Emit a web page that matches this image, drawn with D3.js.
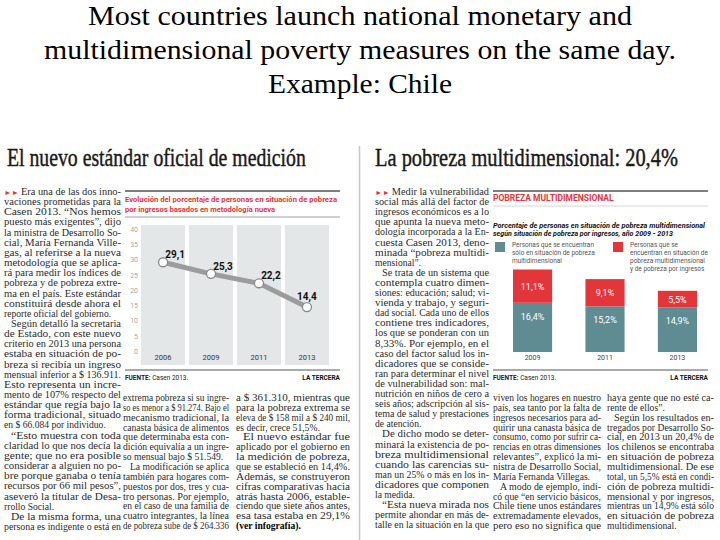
<!DOCTYPE html>
<html><head><meta charset="utf-8">
<script src="https://cdn.jsdelivr.net/npm/d3@7"></script>
<style>body{margin:0;background:#fff}svg{display:block}</style>
</head><body>
<svg id="c" width="720" height="540"></svg>
<script>
// ---------- data ----------
const titleLines = [
  "Most countries launch national monetary and",
  "multidimensional poverty measures on the same day.",
  "Example: Chile"
];
const headlineLeft = "El nuevo estándar oficial de medición";
const headlineRight = "La pobreza multidimensional: 20,4%";

const lineTitle = ["Evolución del porcentaje de personas en situación de pobreza",
                   "por ingresos basados en metodología nueva"];
const lineYears = ["2006", "2009", "2011", "2013"];
const lineValues = [29.1, 25.3, 22.2, 14.4];
const lineLabels = ["29,1", "25,3", "22,2", "14,4"];
const yTicks = [0, 5, 10, 15, 20, 25, 30, 35, 40];

const barHeading = "POBREZA MULTIDIMENSIONAL";
const barSubtitle = ["Porcentaje de personas en situación de pobreza multidimensional",
                     "según situación de pobreza por ingresos, año 2009 - 2013"];
const barYears = ["2009", "2011", "2013"];
const onlyMulti = [16.4, 15.2, 14.9];
const multiAndIncome = [11.1, 9.1, 5.5];
const onlyMultiLabels = ["16,4%", "15,2%", "14,9%"];
const bothLabels = ["11,1%", "9,1%", "5,5%"];
const legendOnly = ["Personas que se encuentran", "sólo en situación de pobreza", "multidimensional"];
const legendBoth = ["Personas que se", "encuentran en situación de", "pobreza multidimensional", "y de pobreza por ingresos"];
const sourceText = ["FUENTE:", " Casen 2013."];
const brand = "LA TERCERA";

// body text columns ("\t" = indented paragraph start, "\n" = paragraph end, ** = bold)
const colA = [
  "►► Era una de las dos inno-", "vaciones prometidas para la", "Casen 2013. “Nos hemos",
  "puesto más exigentes”, dijo", "la ministra de Desarrollo So-", "cial, María Fernanda Ville-",
  "gas, al referirse a la nueva", "metodología que se aplica-", "rá para medir los índices de",
  "pobreza y de pobreza extre-", "ma en el país. Este estándar", "constituirá desde ahora el",
  "reporte oficial del gobierno.\n", "\tSegún detalló la secretaria", "de Estado, con este nuevo",
  "criterio en 2013 una persona", "estaba en situación de po-", "breza si recibía un ingreso",
  "mensual inferior a $ 136.911.", "Esto representa un incre-", "mento de 107% respecto del",
  "estándar que regía bajo la", "forma tradicional, situado", "en $ 66.084 por individuo.\n",
  "\t“Esto muestra con toda", "claridad lo que nos decía la", "gente; que no era posible",
  "considerar a alguien no po-", "bre porque ganaba o tenía", "recursos por 66 mil pesos”,",
  "aseveró la titular de Desa-", "rrollo Social.\n", "\tDe la misma forma, una",
  "persona es indigente o está en"
];
const colB = [
  "extrema pobreza si su ingre-", "so es menor a $ 91.274. Bajo el", "mecanismo tradicional, la",
  "canasta básica de alimentos", "que determinaba esta con-", "dición equivalía a un ingre-",
  "so mensual bajo $ 51.549.\n", "\tLa modificación se aplica", "también para hogares com-",
  "puestos por dos, tres y cua-", "tro personas. Por ejemplo,", "en el caso de una familia de",
  "cuatro integrantes, la línea", "de pobreza sube de $ 264.336"
];
const colC = [
  "a $ 361.310, mientras que", "para la pobreza extrema se", "eleva de $ 158 mil a $ 240 mil,",
  "es decir, crece 51,5%.\n", "\tEl nuevo estándar fue", "aplicado por el gobierno en",
  "la medición de pobreza,", "que se estableció en 14,4%.", "Además, se construyeron",
  "cifras comparativas hacia", "atrás hasta 2006, estable-", "ciendo que siete años antes,",
  "esa tasa estaba en 29,1%", "**(ver infografía).**\n"
];
const colD = [
  "►► Medir la vulnerabilidad", "social más allá del factor de", "ingresos económicos es a lo",
  "que apunta la nueva meto-", "dología incorporada a la En-", "cuesta Casen 2013, deno-",
  "minada “pobreza multidi-", "mensional”.\n", "\tSe trata de un sistema que",
  "contempla cuatro dimen-", "siones: educación; salud; vi-", "vienda y trabajo, y seguri-",
  "dad social. Cada uno de ellos", "contiene tres indicadores,", "los que se ponderan con un",
  "8,33%. Por ejemplo, en el", "caso del factor salud los in-", "dicadores que se conside-",
  "ran para determinar el nivel", "de vulnerabilidad son: mal-", "nutrición en niños de cero a",
  "seis años; adscripción al sis-", "tema de salud y prestaciones", "de atención.\n",
  "\tDe dicho modo se deter-", "minará la existencia de po-", "breza multidimensional",
  "cuando las carencias su-", "man un 25% o más en los in-", "dicadores que componen",
  "la medida.\n", "\t“Esta nueva mirada nos", "permite ahondar en más de-",
  "talle en la situación en la que"
];
const colE = [
  "viven los hogares en nuestro", "país, sea tanto por la falta de", "ingresos necesarios para ad-",
  "quirir una canasta básica de", "consumo, como por sufrir ca-", "rencias en otras dimensiones",
  "relevantes”, explicó la mi-", "nistra de Desarrollo Social,", "María Fernanda Villegas.\n",
  "\tA modo de ejemplo, indi-", "có que “en servicio básicos,", "Chile tiene unos estándares",
  "extremadamente elevados,", "pero eso no significa que"
];
const colF = [
  "haya gente que no esté ca-", "rente de ellos”.\n", "\tSegún los resultados en-",
  "tregados por Desarrollo So-", "cial, en 2013 un 20,4% de", "los chilenos se encontraba",
  "en situación de pobreza", "multidimensional. De ese", "total, un 5,5% está en condi-",
  "ción de pobreza multidi-", "mensional y por ingresos,", "mientras un 14,9% está sólo",
  "en situación de pobreza", "multidimensional.\n"
];

// ---------- drawing ----------
const svg = d3.select("#c");
svg.append("rect").attr("width", 720).attr("height", 540).attr("fill", "#fff");

const SERIF = "'Liberation Serif','Times New Roman',serif";
const SANS = "Roboto,'Liberation Sans',Arial,sans-serif";
const RED = "#e2363b", TEAL = "#5f8b93";

function fitText(sel, w) {
  sel.attr("textLength", w).attr("lengthAdjust", "spacingAndGlyphs");
}

// slide title
const titleW = [544, 632, 184];
titleLines.forEach((t, i) => {
  const el = svg.append("text").attr("x", 360).attr("y", 25 + i * 34)
    .attr("text-anchor", "middle").attr("font-family", SERIF).attr("font-size", 28)
    .attr("fill", "#000").text(t);
  fitText(el, titleW[i]);
});

// page divider
svg.append("line").attr("x1", 359.5).attr("x2", 359.5).attr("y1", 146).attr("y2", 540)
  .attr("stroke", "#c8c8c8").attr("stroke-width", 1.5);

// headlines (condensed by a horizontal scale so the box matches the drawn width)
[[headlineLeft, 7, 299], [headlineRight, 375, 303]].forEach(([t, x, w]) => {
  const el = svg.append("text").attr("x", 0).attr("y", 0).attr("font-family", SERIF)
    .attr("font-size", 25).attr("fill", "#1a1a1a").attr("stroke", "#1a1a1a")
    .attr("stroke-width", 0.45).text(t);
  const nat = el.node().getComputedTextLength();
  el.attr("transform", `translate(${x},166) scale(${w / nat},1)`);
});

// body columns
function column(lines, x, w, y0, dy) {
  const g = svg.append("g").attr("font-family", SERIF).attr("font-size", 9.6).attr("fill", "#2b2b2b");
  lines.forEach((ln, i) => {
    const indent = ln.startsWith("\t") ? 7 : 0;
    const end = ln.endsWith("\n");
    let s = ln.replace(/^\t/, "").replace(/\n$/, "");
    const t = g.append("text").attr("x", x + indent).attr("y", y0 + i * dy);
    if (s.startsWith("►► ")) {
      t.append("tspan").attr("fill", RED).attr("font-size", 7).text("►► ");
      s = s.slice(3);
    }
    if (s.startsWith("**")) {
      t.append("tspan").attr("font-weight", "bold").attr("fill", "#000").text(s.replace(/\*\*/g, ""));
    } else {
      t.append("tspan").text(s);
    }
    const nat = t.node().getComputedTextLength();
    const avail = w - indent;
    fitText(t, end ? Math.min(nat, avail) : avail);
  });
}
column(colA, 4, 117, 195, 10.15);
column(colB, 123, 106, 401, 9.85);
column(colC, 236, 114, 401, 9.85);
column(colD, 375, 114, 195, 10.1);
column(colE, 493, 108, 401, 9.85);
column(colF, 607, 107, 401, 9.85);

// ---------- left chart: line ----------
(function () {
  const x0 = 125, x1 = 340;
  const g = svg.append("g");
  g.append("line").attr("x1", x0).attr("x2", x1).attr("y1", 191).attr("y2", 191).attr("stroke", "#555").attr("stroke-width", 1.3);
  lineTitle.forEach((t, i) => {
    fitText(g.append("text").attr("x", x0).attr("y", 202 + i * 10).attr("font-family", SANS)
      .attr("font-weight", "bold").attr("font-size", 8).attr("fill", RED).text(t), i === 0 ? 212 : 150);
  });
  g.append("line").attr("x1", x0).attr("x2", x1).attr("y1", 217).attr("y2", 217).attr("stroke", "#888").attr("stroke-width", 0.8);

  const x = d3.scaleBand().domain(lineYears).range([141, 329]).paddingInner(0.08);
  const y = d3.scaleLinear().domain([0, 40]).range([351, 229]);

  g.selectAll("rect.band").data(lineYears).join("rect").attr("class", "band")
    .attr("x", d => x(d)).attr("width", x.bandwidth()).attr("y", 225).attr("height", 140)
    .attr("fill", "#e4e7e7");

  const ya = g.append("g").attr("transform", "translate(138,0)")
    .call(d3.axisLeft(y).tickValues(yTicks).tickSize(0).tickPadding(0));
  ya.select(".domain").remove();
  ya.selectAll("text").attr("font-family", SANS).attr("font-size", 7).attr("fill", "#a8a8a8");

  const xa = g.append("g").attr("transform", "translate(0,352)")
    .call(d3.axisBottom(x).tickSize(0).tickPadding(3));
  xa.select(".domain").remove();
  xa.selectAll("text").attr("font-family", SANS).attr("font-size", 7.5).attr("fill", "#333");

  const pts = lineYears.map((yr, i) => ({ yr, v: lineValues[i], lab: lineLabels[i] }));
  const cx = d => x(d.yr) + x.bandwidth() / 2;
  g.append("path").datum(pts)
    .attr("d", d3.line().x(cx).y(d => y(d.v)))
    .attr("fill", "none").attr("stroke", "#9c9c9c").attr("stroke-width", 5);
  g.selectAll("circle").data(pts).join("circle")
    .attr("cx", cx).attr("cy", d => y(d.v)).attr("r", 4.5)
    .attr("fill", "#fff").attr("stroke", "#8a8a8a").attr("stroke-width", 1.3);
  g.selectAll("text.lab").data(pts).join("text").attr("class", "lab")
    .attr("x", (d, i) => cx(d) + (i < 3 ? 12 : 0)).attr("y", (d, i) => y(d.v) - (i < 3 ? 4 : 7))
    .attr("text-anchor", "middle").attr("font-family", SANS).attr("font-weight", "bold")
    .attr("font-size", 10).attr("fill", "#111").text(d => d.lab);

  g.append("line").attr("x1", x0).attr("x2", x1).attr("y1", 370).attr("y2", 370).attr("stroke", "#555").attr("stroke-width", 1);
  const src = g.append("text").attr("x", x0).attr("y", 380).attr("font-family", SANS).attr("font-size", 6.5).attr("fill", "#222");
  src.append("tspan").attr("font-weight", "bold").text(sourceText[0]);
  src.append("tspan").text(sourceText[1]);
  g.append("text").attr("x", x1).attr("y", 380).attr("text-anchor", "end").attr("font-family", SANS)
    .attr("font-weight", "bold").attr("font-size", 6.5).attr("fill", "#111").text(brand);
})();

// ---------- right chart: stacked bars ----------
(function () {
  const x0 = 493, x1 = 708;
  const g = svg.append("g");
  g.append("line").attr("x1", x0).attr("x2", x1).attr("y1", 191).attr("y2", 191).attr("stroke", "#555").attr("stroke-width", 1.3);
  g.append("text").attr("x", x0).attr("y", 201).attr("font-family", SANS).attr("font-weight", "bold")
    .attr("font-size", 8.5).attr("fill", RED).text(barHeading);
  g.append("line").attr("x1", x0).attr("x2", x1).attr("y1", 206).attr("y2", 206).attr("stroke", "#bbb").attr("stroke-width", 0.6);
  barSubtitle.forEach((t, i) => {
    fitText(g.append("text").attr("x", x0).attr("y", 228 + i * 8).attr("font-family", SANS)
      .attr("font-weight", "bold").attr("font-style", "italic").attr("font-size", 7).attr("fill", "#111").text(t),
      i === 0 ? 212 : 180);
  });
  // legend
  g.append("rect").attr("x", 495).attr("y", 242).attr("width", 10).attr("height", 10).attr("fill", TEAL);
  legendOnly.forEach((t, i) => g.append("text").attr("x", 512).attr("y", 247 + i * 8)
    .attr("font-family", SANS).attr("font-size", 6.5).attr("fill", "#555").text(t));
  g.append("rect").attr("x", 613).attr("y", 242).attr("width", 10).attr("height", 10).attr("fill", RED);
  legendBoth.forEach((t, i) => g.append("text").attr("x", 630).attr("y", 247 + i * 8)
    .attr("font-family", SANS).attr("font-size", 6.5).attr("fill", "#555").text(t));

  const x = d3.scaleBand().domain(barYears).range([513, 697]).paddingInner(0.46);
  const y = d3.scaleLinear().domain([0, 40]).range([352, 232]);
  const rows = barYears.map((yr, i) => ({ yr, only: onlyMulti[i], both: multiAndIncome[i], i }));
  const stack = d3.stack().keys(["only", "both"])(rows);
  const colors = { only: TEAL, both: RED };
  stack.forEach(layer => {
    g.selectAll(null).data(layer).join("rect")
      .attr("x", d => x(d.data.yr)).attr("width", x.bandwidth())
      .attr("y", d => y(d[1])).attr("height", d => y(d[0]) - y(d[1]))
      .attr("fill", colors[layer.key]);
    g.selectAll(null).data(layer).join("text")
      .attr("x", d => x(d.data.yr) + x.bandwidth() / 2)
      .attr("y", d => layer.key === "both" ? (y(d[1]) + y(d[0])) / 2 + 3.5 : y(d[1]) + 17)
      .attr("text-anchor", "middle").attr("font-family", SANS).attr("font-size", 9)
      .attr("fill", "#fff").text(d => layer.key === "both" ? bothLabels[d.data.i] : onlyMultiLabels[d.data.i]);
  });
  const xa = g.append("g").attr("transform", "translate(0,352)")
    .call(d3.axisBottom(x).tickSize(0).tickPadding(3));
  xa.select(".domain").remove();
  xa.selectAll("text").attr("font-family", SANS).attr("font-size", 7).attr("fill", "#444");

  g.append("line").attr("x1", x0).attr("x2", x1).attr("y1", 370).attr("y2", 370).attr("stroke", "#555").attr("stroke-width", 1);
  const src = g.append("text").attr("x", x0).attr("y", 380).attr("font-family", SANS).attr("font-size", 6.5).attr("fill", "#222");
  src.append("tspan").attr("font-weight", "bold").text(sourceText[0]);
  src.append("tspan").text(sourceText[1]);
  g.append("text").attr("x", x1).attr("y", 380).attr("text-anchor", "end").attr("font-family", SANS)
    .attr("font-weight", "bold").attr("font-size", 6.5).attr("fill", "#111").text(brand);
})();
</script>
</body></html>
